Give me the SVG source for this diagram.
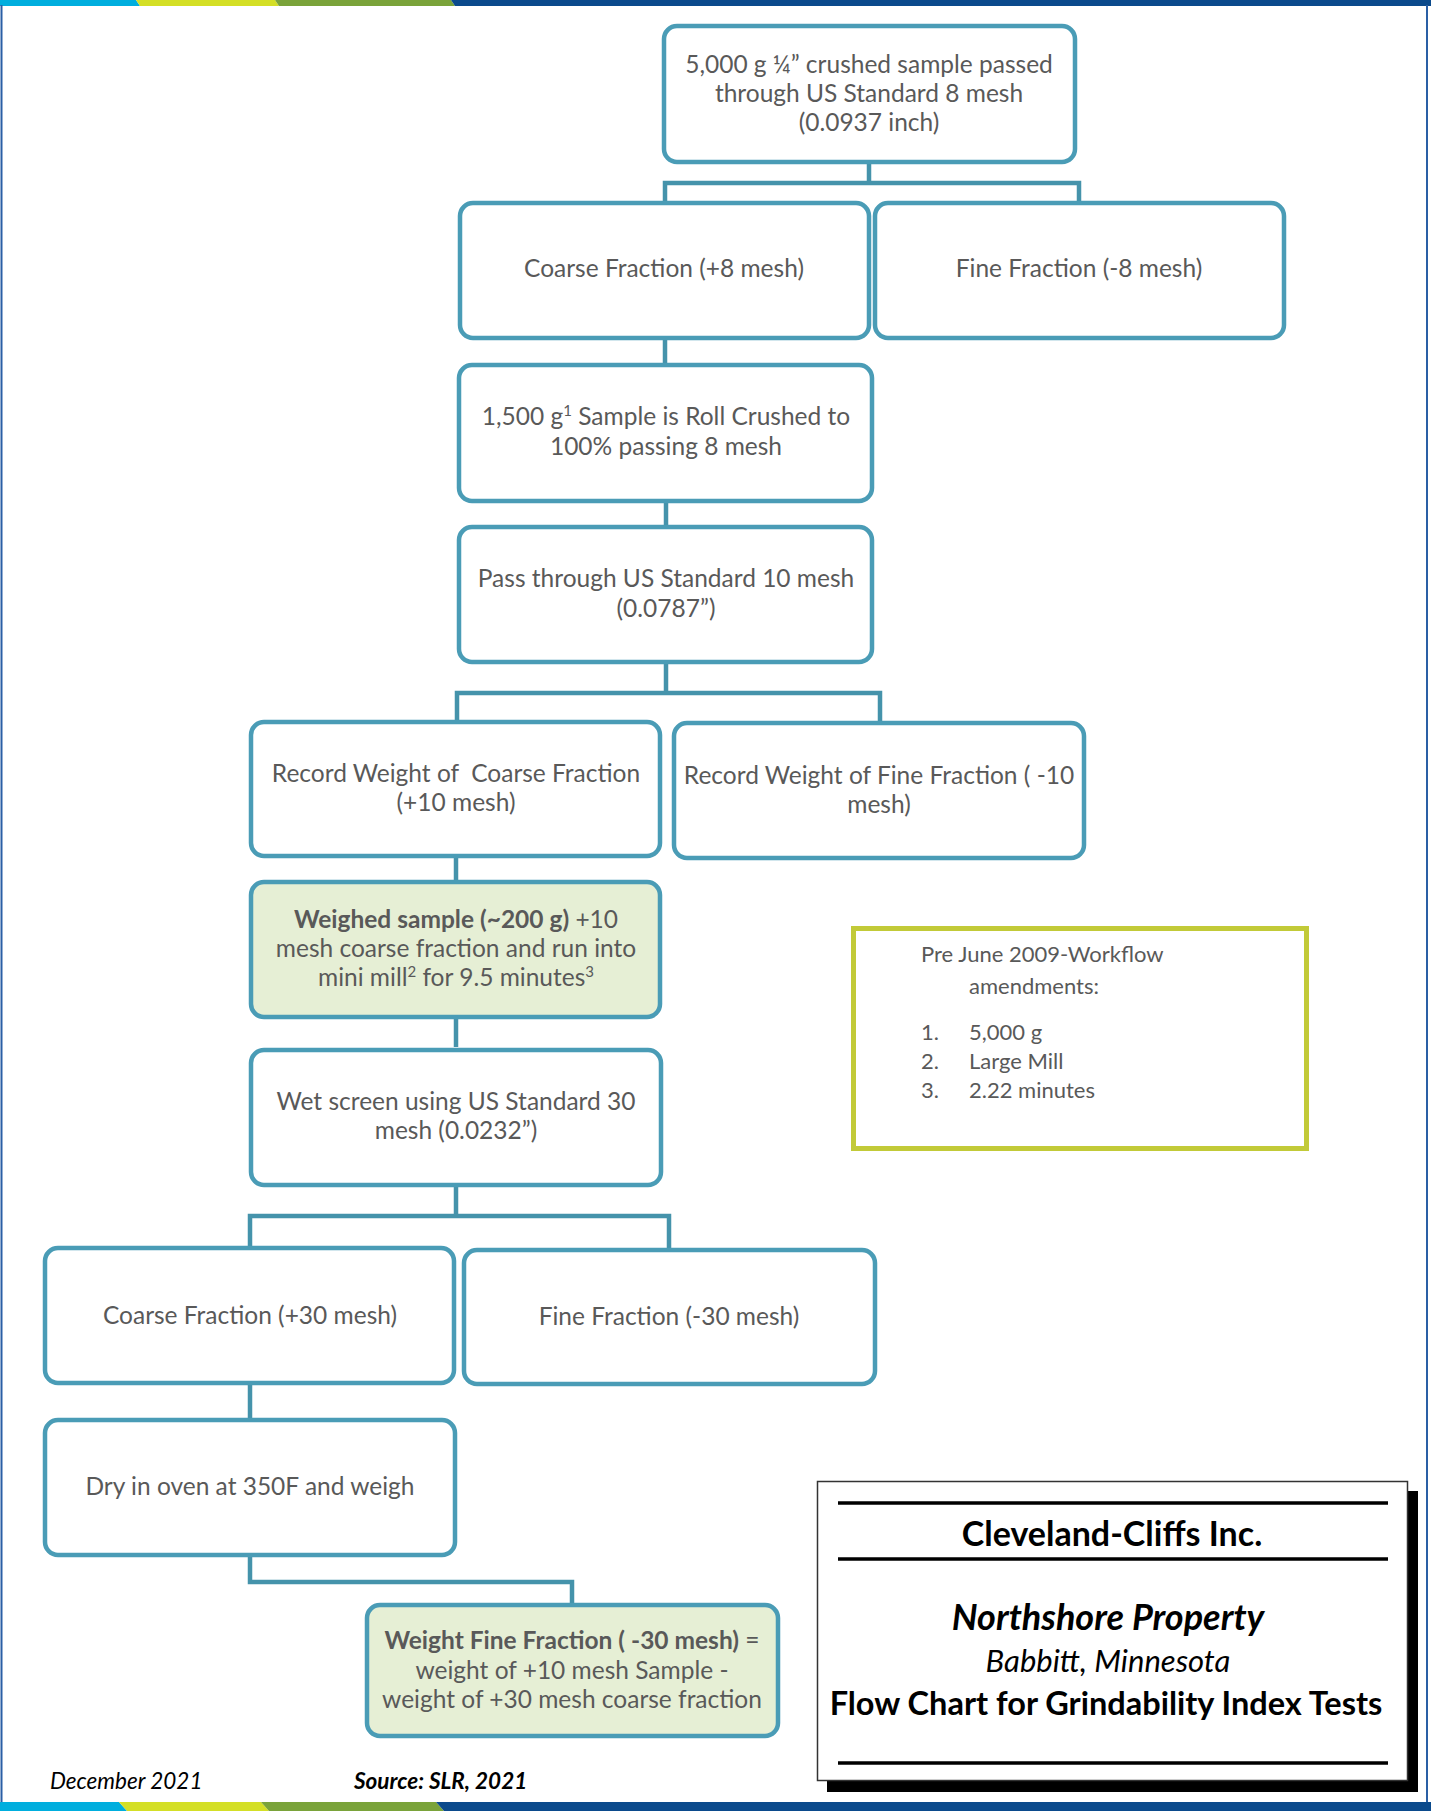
<svg xmlns="http://www.w3.org/2000/svg" width="1431" height="1811" viewBox="0 0 1431 1811">
<style>
.node{fill:#ffffff;stroke:#4a9cb6;stroke-width:4.5}
.green{fill:#e6efd5;stroke:#4a9cb6;stroke-width:4.5}
.t{font-family:Lato,"Open Sans","Liberation Sans",sans-serif;font-size:24.5px;fill:#595959;text-anchor:middle}
.b{font-weight:bold}
.sup{font-size:15px}
.conn{fill:none;stroke:#4593ab;stroke-width:4.5}
.note{font-family:Lato,"Open Sans","Liberation Sans",sans-serif;font-size:22px;fill:#595959}
.ttl{font-family:Lato,"Open Sans","Liberation Sans",sans-serif;fill:#000000;text-anchor:middle}
.foot{font-family:Lato,"Open Sans","Liberation Sans",sans-serif;font-size:22.5px;fill:#000000;font-style:italic}
</style>
<rect x="0" y="0" width="1431" height="1811" fill="#ffffff"/>
<g id="frame">
<polygon points="0,0 136,0 140,6 0,6" fill="#00aede"/>
<polygon points="136,0 275,0 279,6 140,6" fill="#d4df26"/>
<polygon points="275,0 451,0 455,6 279,6" fill="#7aa33a"/>
<polygon points="451,0 1431,0 1431,6 455,6" fill="#0b4a8c"/>
<line x1="1.5" y1="5" x2="1.5" y2="1802" stroke="#2a5fa5" stroke-width="2"/>
<line x1="1427" y1="5" x2="1427" y2="1802" stroke="#2a5fa5" stroke-width="2"/>
<polygon points="0,1802 119,1802 127,1811 0,1811" fill="#00aede"/>
<polygon points="119,1802 261,1802 269,1811 127,1811" fill="#d4df26"/>
<polygon points="261,1802 436,1802 444,1811 269,1811" fill="#7aa33a"/>
<polygon points="436,1802 1431,1802 1431,1811 444,1811" fill="#0b4a8c"/>
</g>
<g id="connectors">
<path class="conn" d="M869,164 V183 M665,201 V183 H1079 V201"/>
<path class="conn" d="M665,340 V364"/>
<path class="conn" d="M666,503 V526"/>
<path class="conn" d="M666,664 V693 M457,721 V693 H880 V722"/>
<path class="conn" d="M456,858 V881"/>
<path class="conn" d="M456,1019 V1047"/>
<path class="conn" d="M456,1187 V1216 M250,1247 V1216 H669 V1249"/>
<path class="conn" d="M250,1385 V1419"/>
<path class="conn" d="M250,1557 V1582 H572 V1605"/>
</g>
<g id="n1">
<rect class="node" x="664" y="26" width="411" height="136" rx="13"/>
<text class="t" x="869" y="73">5,000 g ¼” crushed sample passed</text>
<text class="t" x="869" y="102">through US Standard 8 mesh</text>
<text class="t" x="869" y="131">(0.0937 inch)</text>
</g>
<g id="n2">
<rect class="node" x="460" y="203" width="409" height="135" rx="13"/>
<text class="t" x="664" y="277">Coarse Fraction (+8 mesh)</text>
</g>
<g id="n3">
<rect class="node" x="875" y="203" width="409" height="135" rx="13"/>
<text class="t" x="1079" y="277">Fine Fraction (-8 mesh)</text>
</g>
<g id="n4">
<rect class="node" x="459" y="365" width="413" height="136" rx="13"/>
<text class="t" x="666" y="425">1,500 g<tspan class="sup" dy="-9">1</tspan><tspan dy="9"> Sample is Roll Crushed to</tspan></text>
<text class="t" x="666" y="455">100% passing 8 mesh</text>
</g>
<g id="n5">
<rect class="node" x="459" y="527" width="413" height="135" rx="13"/>
<text class="t" x="666" y="587">Pass through US Standard 10 mesh</text>
<text class="t" x="666" y="617">(0.0787”)</text>
</g>
<g id="n6">
<rect class="node" x="251" y="722" width="409" height="134" rx="13"/>
<text class="t" x="456" y="782" xml:space="preserve">Record Weight of  Coarse Fraction</text>
<text class="t" x="456" y="811">(+10 mesh)</text>
</g>
<g id="n7">
<rect class="node" x="674" y="723" width="410" height="135" rx="13"/>
<text class="t" x="879" y="784">Record Weight of Fine Fraction ( -10</text>
<text class="t" x="879" y="813">mesh)</text>
</g>
<g id="n8">
<rect class="green" x="251" y="882" width="409" height="135" rx="13"/>
<text class="t" x="456" y="928"><tspan class="b">Weighed sample (~200 g)</tspan> +10</text>
<text class="t" x="456" y="957">mesh coarse fraction and run into</text>
<text class="t" x="456" y="986">mini mill<tspan class="sup" dy="-9">2</tspan><tspan dy="9"> for 9.5 minutes</tspan><tspan class="sup" dy="-9">3</tspan></text>
</g>
<g id="n9">
<rect class="node" x="251" y="1050" width="410" height="135" rx="13"/>
<text class="t" x="456" y="1110">Wet screen using US Standard 30</text>
<text class="t" x="456" y="1139">mesh (0.0232”)</text>
</g>
<g id="n10">
<rect class="node" x="45" y="1248" width="409" height="135" rx="13"/>
<text class="t" x="250" y="1324">Coarse Fraction (+30 mesh)</text>
</g>
<g id="n11">
<rect class="node" x="464" y="1250" width="411" height="134" rx="13"/>
<text class="t" x="669" y="1325">Fine Fraction (-30 mesh)</text>
</g>
<g id="n12">
<rect class="node" x="45" y="1420" width="410" height="135" rx="13"/>
<text class="t" x="250" y="1495">Dry in oven at 350F and weigh</text>
</g>
<g id="n13">
<rect class="green" x="367" y="1605" width="411" height="131" rx="13"/>
<text class="t" x="572" y="1649"><tspan class="b">Weight Fine Fraction ( -30 mesh)</tspan> =</text>
<text class="t" x="572" y="1679">weight of +10 mesh Sample -</text>
<text class="t" x="572" y="1708">weight of +30 mesh coarse fraction</text>
</g>
<g id="note">
<rect x="853.5" y="928.5" width="453" height="220" fill="#ffffff" stroke="#c2ca38" stroke-width="5"/>
<text class="note" x="921" y="962">Pre June 2009-Workflow</text>
<text class="note" x="969" y="994">amendments:</text>
<text class="note" x="921" y="1040">1.</text>
<text class="note" x="969" y="1040">5,000 g</text>
<text class="note" x="921" y="1069">2.</text>
<text class="note" x="969" y="1069">Large Mill</text>
<text class="note" x="921" y="1098">3.</text>
<text class="note" x="969" y="1098">2.22 minutes</text>
</g>
<g id="title">
<rect x="827" y="1491" width="591" height="301" fill="#000000"/>
<rect x="817.5" y="1481.5" width="590" height="299" fill="#ffffff" stroke="#333333" stroke-width="1.5"/>
<line x1="838" y1="1503" x2="1388" y2="1503" stroke="#000" stroke-width="3.5"/>
<line x1="838" y1="1559" x2="1388" y2="1559" stroke="#000" stroke-width="3.5"/>
<line x1="838" y1="1763" x2="1388" y2="1763" stroke="#000" stroke-width="3.5"/>
<text class="ttl" x="1112" y="1546" font-size="34" font-weight="bold">Cleveland-Cliffs Inc.</text>
<text class="ttl" x="1108" y="1630" font-size="36" font-weight="bold" font-style="italic">Northshore Property</text>
<text class="ttl" x="1108" y="1672" font-size="31" font-style="italic">Babbitt, Minnesota</text>
<text class="ttl" x="1106" y="1715" font-size="32.5" font-weight="bold">Flow Chart for Grindability Index Tests</text>
</g>
<g id="footer">
<text class="foot" x="50" y="1789">December 2021</text>
<text class="foot" x="354" y="1789" font-weight="bold">Source: SLR, 2021</text>
</g>
</svg>
